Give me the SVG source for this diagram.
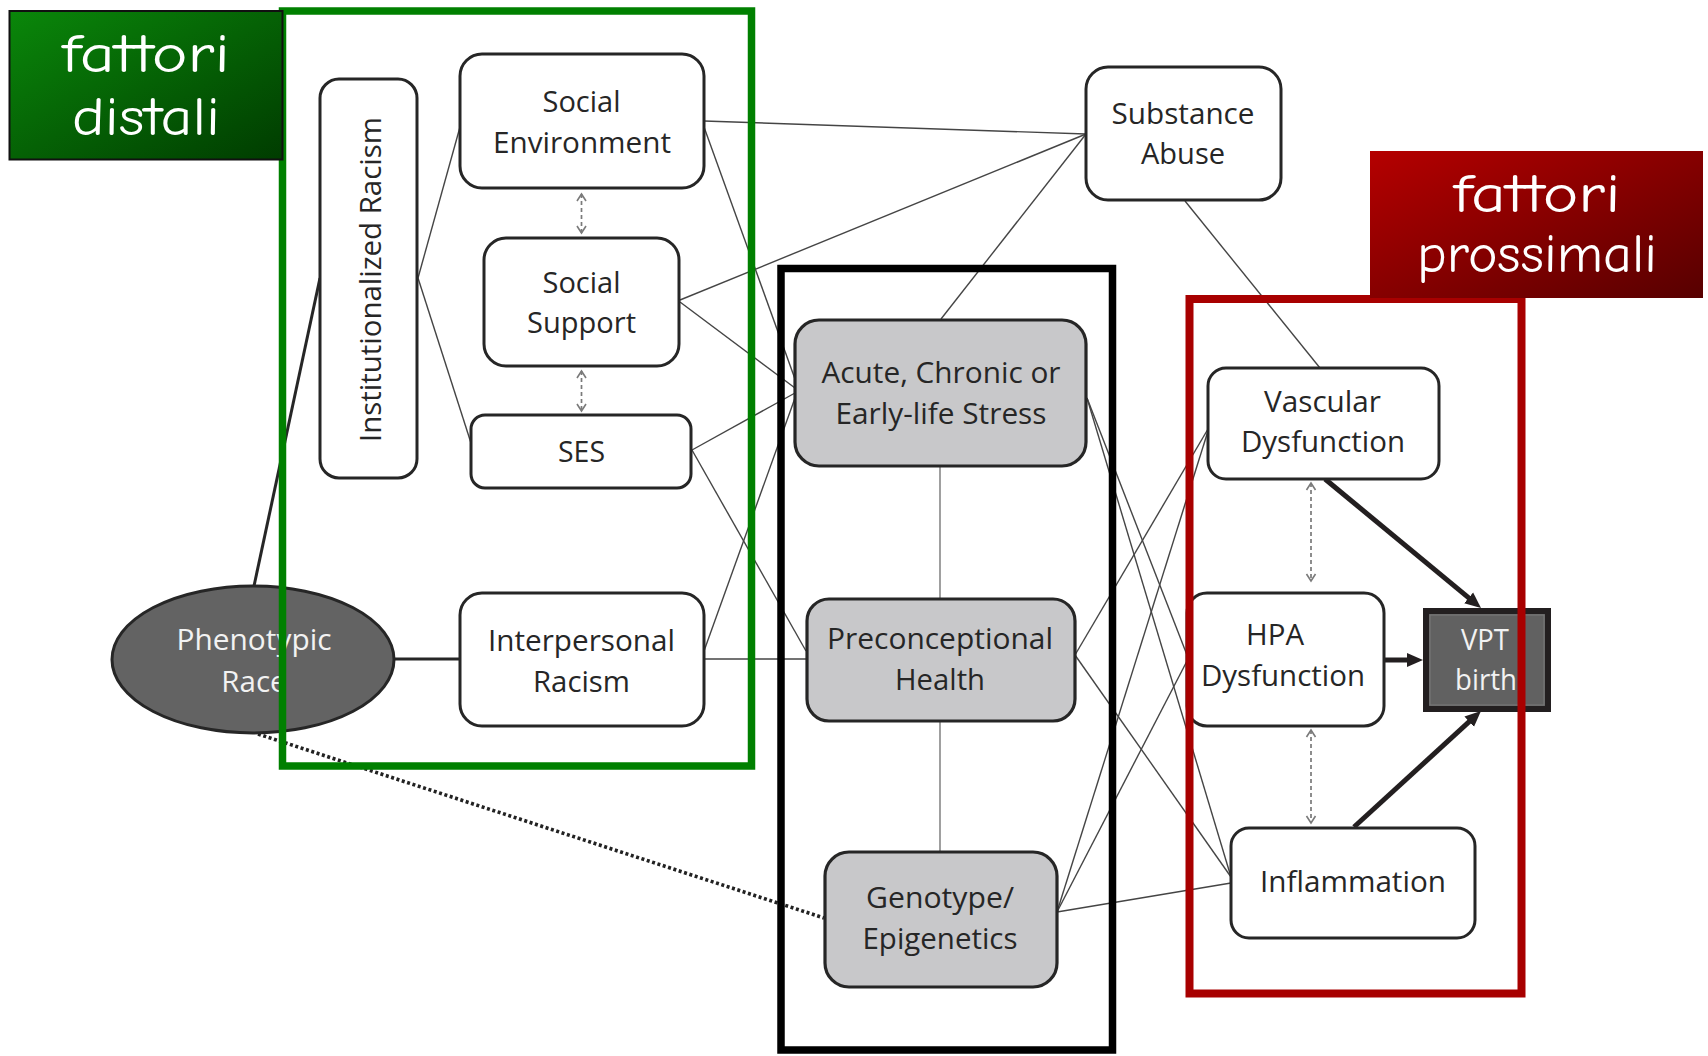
<svg xmlns="http://www.w3.org/2000/svg" width="1708" height="1056" viewBox="0 0 1708 1056">
<defs>
<style>
.t{font-family:"Open Sans","Noto Sans","DejaVu Sans",sans-serif;font-size:29.5px;fill:#262626;text-anchor:middle}
.tw{fill:#f2f2f2}
.box{fill:#ffffff;stroke:#262626;stroke-width:3}
.gbox{fill:#c8c8ca;stroke:#262626;stroke-width:3.2}
.thin{stroke:#454545;stroke-width:1.4;fill:none}
.vert{stroke:#777;stroke-width:1.4;fill:none}
.bold{stroke:#262626;stroke-width:3;fill:none}
.dash{stroke:#7a7a7a;stroke-width:1.7;stroke-dasharray:4 3;fill:none;marker-start:url(#open);marker-end:url(#open)}
.thick{stroke:#231f20;stroke-width:5;fill:none;marker-end:url(#solid)}
.dot{stroke:#222;stroke-width:3.6;stroke-dasharray:3 2.6;fill:none}
.lbl{font-family:"Comic Sans MS","Comic Neue","DejaVu Sans",sans-serif;font-size:54px;fill:#ffffff;text-anchor:middle;font-variant-ligatures:none;font-feature-settings:"liga" 0,"calt" 0,"dlig" 0,"clig" 0}
.frame{fill:none}
</style>
<marker id="open" markerUnits="userSpaceOnUse" markerWidth="12" markerHeight="12" refX="8" refY="5" orient="auto-start-reverse" viewBox="0 0 12 10">
<path d="M1,0.5 L8,5 L1,9.5" fill="none" stroke="#7a7a7a" stroke-width="1.6"/>
</marker>
<marker id="solid" markerUnits="userSpaceOnUse" markerWidth="18" markerHeight="16" refX="6" refY="8" orient="auto" viewBox="0 0 18 16">
<path d="M0,1 L16,8 L0,15 z" fill="#231f20"/>
</marker>
<linearGradient id="gg" x1="0" y1="0" x2="1" y2="1">
<stop offset="0" stop-color="#0a870a"/>
<stop offset="1" stop-color="#003c00"/>
</linearGradient>
<linearGradient id="rg" x1="0" y1="0" x2="1" y2="1">
<stop offset="0" stop-color="#b50000"/>
<stop offset="1" stop-color="#570000"/>
</linearGradient>
</defs>
<rect x="0" y="0" width="1708" height="1056" fill="#ffffff"/>

<g id="connectors">
<line class="thin" x1="418" y1="278" x2="460" y2="127"/>
<line class="thin" x1="418" y1="278" x2="471" y2="443"/>
<line class="bold" x1="254" y1="586" x2="320" y2="278"/>
<line class="bold" x1="394" y1="659" x2="460" y2="659"/>
<line class="dot" x1="258" y1="734" x2="824" y2="918"/>
<line class="thin" x1="704" y1="121" x2="1086" y2="134"/>
<line class="thin" x1="704" y1="127" x2="795" y2="379"/>
<line class="thin" x1="680" y1="300" x2="1086" y2="134"/>
<line class="thin" x1="680" y1="302" x2="795" y2="388"/>
<line class="thin" x1="692" y1="450" x2="795" y2="393"/>
<line class="thin" x1="692" y1="450" x2="806" y2="651"/>
<line class="thin" x1="704" y1="651" x2="795" y2="398"/>
<line class="thin" x1="704" y1="659" x2="807" y2="659"/>
<line class="thin" x1="941" y1="319" x2="1086" y2="134"/>
<line class="thin" x1="1185" y1="201" x2="1320" y2="368"/>
<line class="vert" x1="940" y1="466" x2="940" y2="599"/>
<line class="vert" x1="940" y1="721" x2="940" y2="852"/>
<line class="thin" x1="1087" y1="398" x2="1187" y2="655"/>
<line class="thin" x1="1087" y1="398" x2="1231" y2="877"/>
<line class="thin" x1="1075" y1="655" x2="1208" y2="429"/>
<line class="thin" x1="1075" y1="655" x2="1231" y2="877"/>
<line class="thin" x1="1057" y1="912" x2="1208" y2="431"/>
<line class="thin" x1="1057" y1="912" x2="1187" y2="661"/>
<line class="thin" x1="1057" y1="912" x2="1231" y2="883"/>
<line class="dash" x1="581.5" y1="194" x2="581.5" y2="233"/>
<line class="dash" x1="581.5" y1="371" x2="581.5" y2="411"/>
<line class="dash" x1="1311" y1="483" x2="1311" y2="581"/>
<line class="dash" x1="1311" y1="730" x2="1311" y2="823"/>
<line class="thick" x1="1325" y1="479" x2="1473.3" y2="601.6"/>
<line class="thick" x1="1384" y1="660" x2="1413" y2="660"/>
<line class="thick" x1="1354" y1="827" x2="1473.6" y2="717.7"/>
</g>

<g id="institutionalized-racism">
<rect class="box" x="320" y="79" width="97" height="399" rx="19"/>
<text class="t" transform="translate(381,279.5) rotate(-90)" x="0" y="0" textLength="325" lengthAdjust="spacingAndGlyphs">Institutionalized Racism</text>
</g>
<g id="social-environment">
<rect class="box" x="460" y="54" width="244" height="134" rx="22"/>
<text class="t" x="581.5" y="112" textLength="78" lengthAdjust="spacingAndGlyphs">Social</text>
<text class="t" x="582" y="153" textLength="178" lengthAdjust="spacingAndGlyphs">Environment</text>
</g>
<g id="social-support">
<rect class="box" x="484" y="238" width="195" height="128" rx="22"/>
<text class="t" x="581.5" y="293" textLength="78" lengthAdjust="spacingAndGlyphs">Social</text>
<text class="t" x="581.5" y="333" textLength="109" lengthAdjust="spacingAndGlyphs">Support</text>
</g>
<g id="ses">
<rect class="box" x="471" y="415" width="220" height="73" rx="14"/>
<text class="t" x="581.5" y="462" textLength="47" lengthAdjust="spacingAndGlyphs">SES</text>
</g>
<g id="interpersonal-racism">
<rect class="box" x="460" y="593" width="244" height="133" rx="22"/>
<text class="t" x="581.5" y="651" textLength="187" lengthAdjust="spacingAndGlyphs">Interpersonal</text>
<text class="t" x="581.5" y="691.5" textLength="97" lengthAdjust="spacingAndGlyphs">Racism</text>
</g>
<g id="phenotypic-race">
<ellipse cx="253" cy="659.5" rx="141" ry="73.5" fill="#636363" stroke="#262626" stroke-width="3"/>
<text class="t tw" x="254" y="649.5" textLength="155" lengthAdjust="spacingAndGlyphs">Phenotypic</text>
<text class="t tw" x="254" y="691.5">Race</text>
</g>
<g id="substance-abuse">
<rect class="box" x="1086" y="67" width="195" height="133" rx="22"/>
<text class="t" x="1183" y="124" textLength="143" lengthAdjust="spacingAndGlyphs">Substance</text>
<text class="t" x="1183" y="164" textLength="84" lengthAdjust="spacingAndGlyphs">Abuse</text>
</g>
<g id="acute-stress">
<rect class="gbox" x="795" y="320" width="291" height="146" rx="24"/>
<text class="t" x="941" y="383" textLength="239" lengthAdjust="spacingAndGlyphs">Acute, Chronic or</text>
<text class="t" x="941" y="424" textLength="211" lengthAdjust="spacingAndGlyphs">Early-life Stress</text>
</g>
<g id="preconceptional-health">
<rect class="gbox" x="807" y="599" width="268" height="122" rx="22"/>
<text class="t" x="940" y="649" textLength="226" lengthAdjust="spacingAndGlyphs">Preconceptional</text>
<text class="t" x="940" y="690" textLength="90" lengthAdjust="spacingAndGlyphs">Health</text>
</g>
<g id="genotype-epigenetics">
<rect class="gbox" x="825" y="852" width="232" height="135" rx="24"/>
<text class="t" x="940" y="908" textLength="148" lengthAdjust="spacingAndGlyphs">Genotype/</text>
<text class="t" x="940" y="948.5" textLength="155" lengthAdjust="spacingAndGlyphs">Epigenetics</text>
</g>
<g id="vascular-dysfunction">
<rect class="box" x="1208" y="368" width="231" height="111" rx="18"/>
<text class="t" x="1322.5" y="412" textLength="117" lengthAdjust="spacingAndGlyphs">Vascular</text>
<text class="t" x="1323" y="452" textLength="164" lengthAdjust="spacingAndGlyphs">Dysfunction</text>
</g>
<g id="hpa-dysfunction">
<rect class="box" x="1187" y="593" width="197" height="133" rx="20"/>
<text class="t" x="1275" y="645" textLength="58" lengthAdjust="spacingAndGlyphs">HPA</text>
<text class="t" x="1283" y="686" textLength="164" lengthAdjust="spacingAndGlyphs">Dysfunction</text>
</g>
<g id="inflammation">
<rect class="box" x="1231" y="828" width="244" height="110" rx="18"/>
<text class="t" x="1353" y="892" textLength="186" lengthAdjust="spacingAndGlyphs">Inflammation</text>
</g>
<g id="vpt-birth">
<rect x="1426" y="611" width="122" height="98" fill="#616161" stroke="#231f20" stroke-width="6"/>
<rect x="1430" y="615" width="114" height="90" fill="none" stroke="#7a7a7a" stroke-width="1"/>
<text class="t tw" x="1485" y="650" textLength="48" lengthAdjust="spacingAndGlyphs">VPT</text>
<text class="t tw" x="1486" y="690" textLength="62" lengthAdjust="spacingAndGlyphs">birth</text>
</g>

<g id="frames">
<rect class="frame" x="282.5" y="11" width="469" height="755" stroke="#008000" stroke-width="7.5"/>
<rect class="frame" x="781" y="268.5" width="331.5" height="781.5" stroke="#000000" stroke-width="7.5"/>
<rect class="frame" x="1189.5" y="299" width="332" height="694.5" stroke="#a80000" stroke-width="8"/>
</g>

<g id="label-distali">
<rect x="9.5" y="11" width="273" height="148.5" fill="url(#gg)" stroke="#111" stroke-width="2"/>
<text class="lbl" x="146" y="72" textLength="168" lengthAdjust="spacingAndGlyphs">fattori</text>
<text class="lbl" x="146" y="135" textLength="148" lengthAdjust="spacingAndGlyphs">distali</text>
</g>
<g id="label-prossimali">
<rect x="1370" y="151" width="333" height="147" fill="url(#rg)"/>
<text class="lbl" x="1537" y="212" textLength="167" lengthAdjust="spacingAndGlyphs">fattori</text>
<text class="lbl" x="1537" y="272" textLength="240" lengthAdjust="spacingAndGlyphs">prossimali</text>
</g>
</svg>
